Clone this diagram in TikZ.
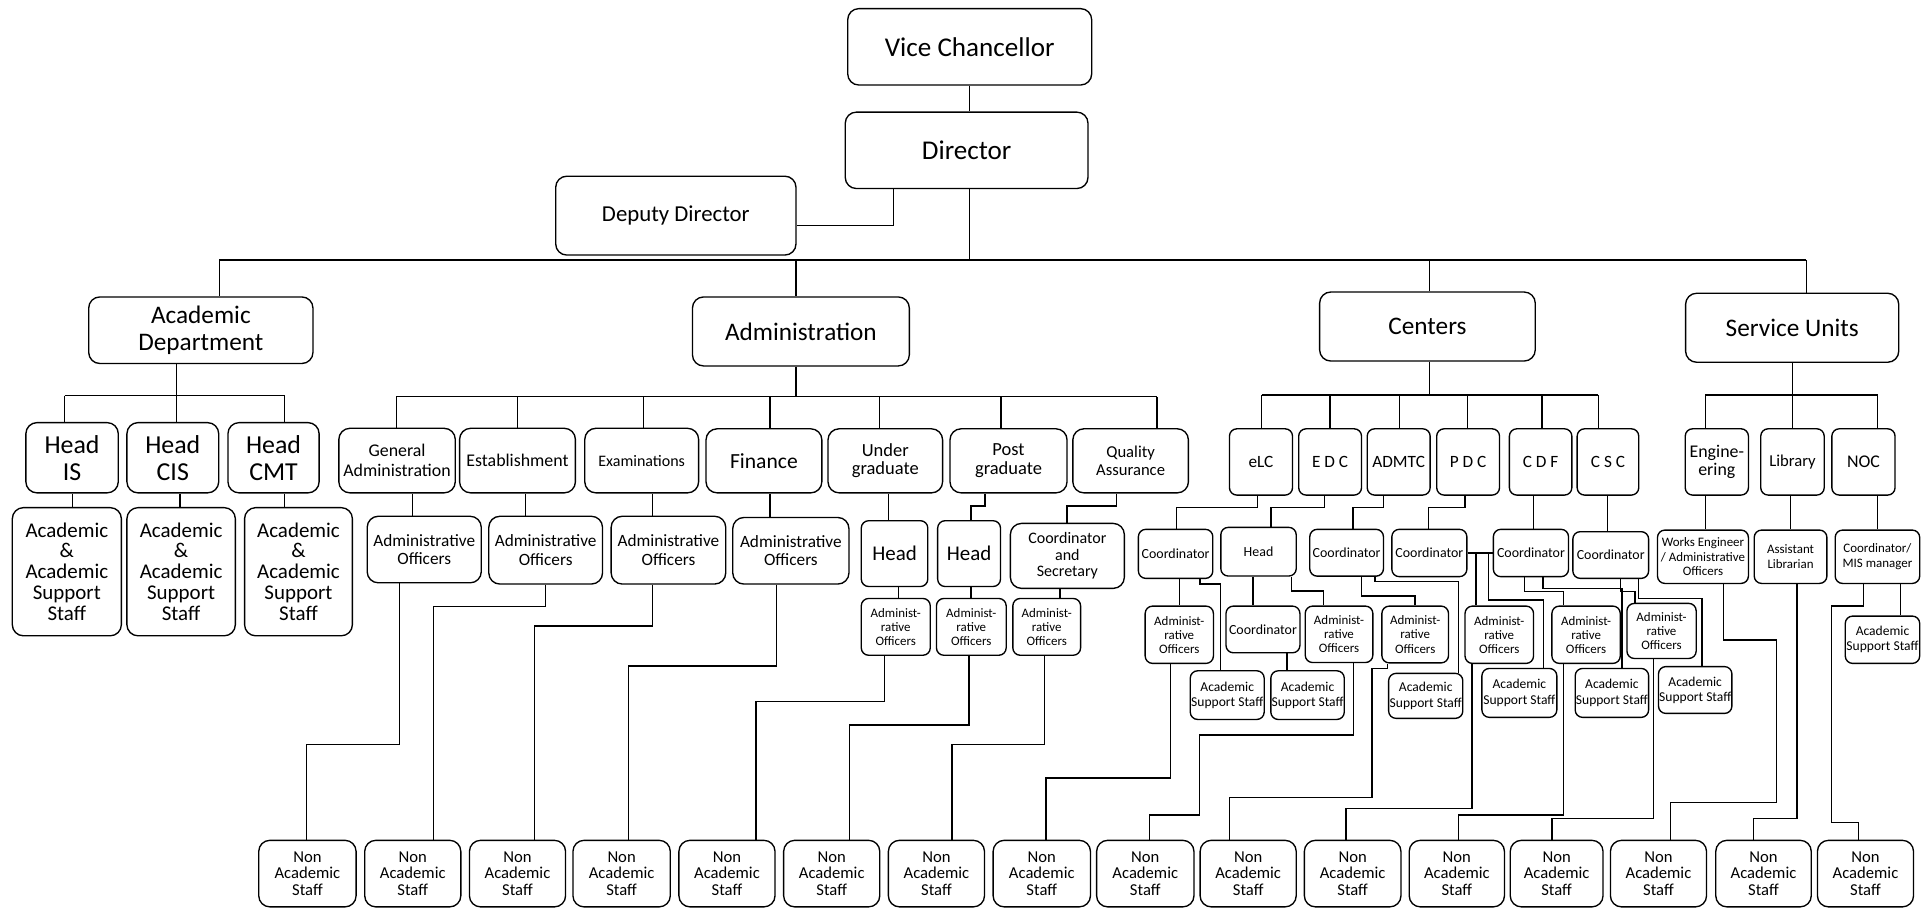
\documentclass[tikz,border=0pt]{standalone}
\usepackage{fontspec}
\setmainfont{Carlito}
\newcommand\obx[7][]{\node[bx,#1,minimum width={(#5-#3)*1pt},minimum height={(#6-#4)*1pt}] (#2) at ({(#3+#5)/2},{(#4+#6)/2}) {#7};}
\newcommand\ovv[3]{\draw[ln] (#2,0 |- #1.south) -- (#2,0 |- #3.north);}
\newcommand\oelA[5]{\draw[ln] (#2,0 |- #1.south) -- (#2,#3) -- (#4,#3) -- (#4,0 |- #5.north);}
\newcommand\oelB[7]{\draw[ln] (#2,0 |- #1.south) -- (#2,#3) -- (#4,#3) -- (#4,#5) -- (#6,#5) -- (#6,0 |- #7.north);}
\begin{document}
\begin{tikzpicture}[x=1pt,y=-1pt,
 bx/.style={draw,line width=1.1pt,rounded corners=9pt,inner sep=0pt,align=center},
 sb/.style={rounded corners=6pt},
 ln/.style={line width=1.1pt},
 fA/.style={font=\fontsize{22}{24}\selectfont},
 fDD/.style={font=\fontsize{18.5}{20}\selectfont},
 fL/.style={font=\fontsize{20.5}{22}\selectfont},
 fH/.style={font=\fontsize{21}{22}\selectfont},
 fAS/.style={font=\fontsize{17}{17}\selectfont},
 fGA/.style={font=\fontsize{14.5}{16}\selectfont},
 fExm/.style={font=\fontsize{13}{14}\selectfont},
 fFin/.style={font=\fontsize{17.5}{18}\selectfont},
 fUG/.style={font=\fontsize{15}{15}\selectfont},
 fQA/.style={font=\fontsize{13.5}{14.5}\selectfont},
 fAO/.style={font=\fontsize{14}{15}\selectfont},
 fHd/.style={font=\fontsize{17}{18}\selectfont},
 fCS/.style={font=\fontsize{13}{13.5}\selectfont},
 fSAO/.style={font=\fontsize{10.5}{11.5}\selectfont},
 fNAS/.style={font=\fontsize{13.5}{13.5}\selectfont},
 fC/.style={font=\fontsize{14}{15}\selectfont},
 fCo/.style={font=\fontsize{11.3}{12}\selectfont},
 fAss/.style={font=\fontsize{11}{12.3}\selectfont},
 fEng/.style={font=\fontsize{14.5}{14.5}\selectfont},
 fSv/.style={font=\fontsize{10.5}{12}\selectfont}]
\useasboundingbox (0,0) rectangle (1568,737);
% ---------- top
\obx[fA]{vc}{688}{7}{886}{69}{Vice Chancellor}
\obx[fA]{dir}{686}{91}{883}{153}{Director}
\obx[fDD]{dd}{451}{143}{646}{207}{Deputy Director}
\ovv{vc}{787}{dir}
\draw[ln] (725,0 |- dir.south) -- (725,183) -- (dd.east |- 725,183);
\draw[ln] (787,0 |- dir.south) -- (787,211);
\draw[ln] (178,211) -- (1466,211);
\obx[fL]{acad}{72}{241}{254}{295}{Academic\\Department}
\obx[fL]{adm}{562}{241}{738}{297}{Administration}
\obx[fL]{cen}{1071}{237}{1246}{293}{Centers}
\obx[fL]{svc}{1368}{238}{1541}{294}{Service Units}
\draw[ln] (178,211) -- (178,0 |- acad.north);
\draw[ln] (646,211) -- (646,0 |- adm.north);
\draw[ln] (1160,211) -- (1160,0 |- cen.north);
\draw[ln] (1466,211) -- (1466,0 |- svc.north);
% ---------- academic
\draw[ln] (143,0 |- acad.south) -- (143,321);
\draw[ln] (52.5,321) -- (231,321);
\obx[fH]{hIS}{21}{343}{96}{400}{Head\\IS}
\obx[fH]{hCIS}{103}{343}{177.5}{400}{Head\\CIS}
\obx[fH]{hCMT}{185}{343}{259}{400}{Head\\CMT}
\draw[ln] (52.5,321) -- (52.5,0 |- hIS.north);
\draw[ln] (143,321) -- (143,0 |- hCIS.north);
\draw[ln] (231,321) -- (231,0 |- hCMT.north);
\obx[fAS]{as1}{10}{412}{98.5}{516}{Academic\\\&\\Academic\\Support\\Staff}
\obx[fAS]{as2}{103}{412}{191}{516}{Academic\\\&\\Academic\\Support\\Staff}
\obx[fAS]{as3}{198.5}{412}{286}{516}{Academic\\\&\\Academic\\Support\\Staff}
\ovv{hIS}{58.7}{as1}
\ovv{hCIS}{146}{as2}
\ovv{hCMT}{231}{as3}
% ---------- administration
\draw[ln] (646,0 |- adm.south) -- (646,322);
\draw[ln] (321.7,322) -- (939,322);
\obx[fGA]{ga}{275}{347.6}{369.5}{400}{General\\Administration}
\obx[fGA]{est}{373}{347.6}{467}{400}{Establishment}
\obx[fExm]{exm}{474.6}{347.6}{567}{400}{Examinations}
\obx[fFin]{fin}{573}{348}{667}{400}{Finance}
\obx[fUG]{ug}{672}{348}{765}{400}{Under\\graduate}
\obx[fUG]{pg}{771}{348}{866}{400}{Post\\graduate}
\obx[fQA]{qa}{870.7}{348}{964.5}{400}{Quality\\Assurance}
\foreach \x/\n in {321.7/ga,420/est,522.5/exm,625/fin,714/ug,812.5/pg,939/qa}
  \draw[ln] (\x,322) -- (\x,0 |- \n.north);
\obx[fAO]{ao1}{298}{419}{390.6}{473}{Administrative\\Officers}
\obx[fAO]{ao2}{396.7}{419}{489}{474}{Administrative\\Officers}
\obx[fAO]{ao3}{496}{419}{589}{474}{Administrative\\Officers}
\obx[fAO]{ao4}{594.7}{420}{689}{474}{Administrative\\Officers}
\ovv{ga}{335}{ao1}
\ovv{est}{426.5}{ao2}
\ovv{exm}{529.7}{ao3}
\ovv{fin}{625}{ao4}
\obx[fHd,sb]{hug}{699}{422.6}{753}{476}{Head}
\obx[fHd,sb]{hpg}{761}{422.6}{812}{476}{Head}
\obx[fCS]{cs}{820}{424.8}{912.5}{477.5}{Coordinator\\and\\Secretary}
\ovv{ug}{721}{hug}
\oelA{pg}{799.5}{410.7}{788}{hpg}
\oelA{qa}{906}{410.7}{866}{cs}
\obx[fSAO,sb]{aoug}{699}{485.7}{755}{531.8}{Administ-\\rative\\Officers}
\obx[fSAO,sb]{aopg}{760}{485.7}{816.6}{531.8}{Administ-\\rative\\Officers}
\obx[fSAO,sb]{aocs}{822}{485.7}{877}{531.8}{Administ-\\rative\\Officers}
\ovv{hug}{729}{aoug}
\ovv{hpg}{788}{aopg}
\ovv{cs}{860.4}{aocs}
% ---------- centers
\draw[ln] (1160,0 |- cen.south) -- (1160,320.6);
\draw[ln] (1024,320.6) -- (1297.3,320.6);
\obx[fC,sb]{elc}{997.8}{348}{1049}{401.8}{eLC}
\obx[fC,sb]{edc}{1054}{348}{1105}{401.8}{E D C}
\obx[fC,sb]{admtc}{1109.6}{348}{1160.7}{401.8}{ADMTC}
\obx[fC,sb]{pdc}{1166}{348}{1217}{401.8}{P D C}
\obx[fC,sb]{cdf}{1225}{348}{1275.7}{401.8}{C D F}
\obx[fC,sb]{csc}{1280}{348}{1330}{401.8}{C S C}
\foreach \x/\n in {1024/elc,1079.5/edc,1135.6/admtc,1191/pdc,1251.4/cdf,1297.3/csc}
  \draw[ln] (\x,320.6) -- (\x,0 |- \n.north);
\obx[fCo,sb]{elcC}{923.9}{429.6}{984.3}{469.4}{Coordinator}
\obx[fCo,sb]{edcH}{990.8}{428}{1052}{467.5}{Head}
\obx[fCo,sb]{admC}{1063}{429.6}{1122.8}{467.6}{Coordinator}
\obx[fCo,sb]{pdcC}{1129.6}{429.6}{1190.5}{468}{Coordinator}
\obx[fCo,sb]{cdfC}{1212}{429.6}{1273}{468}{Coordinator}
\obx[fCo,sb]{cscC}{1276.5}{431.5}{1338}{469.4}{Coordinator}
\oelA{elc}{1020.6}{412}{955}{elcC}
\oelA{edc}{1074.7}{412}{1031.4}{edcH}
\oelA{admtc}{1122.8}{412}{1098}{admC}
\oelA{pdc}{1189}{412}{1159.4}{pdcC}
\ovv{cdf}{1244.6}{cdfC}
\ovv{csc}{1304.6}{cscC}
\draw[ln] (pdcC.east) -- (cdfC.west);
\obx[fSAO,sb]{elcAO}{929.4}{491.9}{984.8}{538.4}{Administ-\\rative\\Officers}
\obx[fAss,sb]{elcS}{966}{544.4}{1026}{583.9}{Academic\\Support Staff}
\obx[fCo,sb]{edcC}{995}{491.9}{1055}{529.8}{Coordinator}
\obx[fSAO,sb]{edcAO}{1059.3}{491.9}{1114.2}{537.7}{Administ-\\rative\\Officers}
\obx[fAss,sb]{edcS}{1031.4}{544.4}{1091}{583.9}{Academic\\Support Staff}
\obx[fSAO,sb]{admAO}{1121.5}{491.9}{1175.6}{538}{Administ-\\rative\\Officers}
\obx[fAss,sb]{admS}{1127}{546.5}{1187.2}{583}{Academic\\Support Staff}
\obx[fSAO,sb]{pdcAO}{1189}{491.9}{1244.6}{538.4}{Administ-\\rative\\Officers}
\obx[fAss,sb]{pdcS}{1202.7}{542.5}{1263.5}{582.2}{Academic\\Support Staff}
\obx[fSAO,sb]{cdfAO}{1259.5}{491.9}{1315}{538.4}{Administ-\\rative\\Officers}
\obx[fAss,sb]{cdfS}{1278.4}{542.5}{1338}{582.2}{Academic\\Support Staff}
\obx[fSAO,sb]{cscAO}{1320.4}{489.7}{1376.6}{534.4}{Administ-\\rative\\Officers}
\obx[fAss,sb]{cscS}{1346}{541}{1405.6}{579}{Academic\\Support Staff}
\ovv{elcC}{957.2}{elcAO}
\oelA{elcC}{974}{474}{990.3}{elcS}
\ovv{edcH}{1016.8}{edcC}
\oelA{edcH}{1048.4}{479.7}{1074}{edcAO}
\ovv{edcC}{1044.4}{edcS}
\oelA{admC}{1105.2}{483.8}{1148.5}{admAO}
\oelA{admC}{1116}{472}{1183.7}{admS}
\draw[ln] (1198,0 |- pdcC.east) -- (1198,0 |- pdcAO.north);
\draw[ln] (1208,0 |- pdcC.east) -- (1208,487) -- (1252.7,487) -- (1252.7,0 |- pdcS.north);
\oelA{cdfC}{1237.3}{480.2}{1269}{cdfAO}
\oelA{cdfC}{1252.2}{477.5}{1316.3}{cdfS}
\oelA{cscC}{1315}{480.2}{1327}{cscAO}
\oelA{cscC}{1330}{485.7}{1381.3}{cscS}
% ---------- service units
\draw[ln] (1454.8,0 |- svc.south) -- (1454.8,320.6);
\draw[ln] (1384,320.6) -- (1523.8,320.6);
\obx[fEng,sb]{eng}{1367.7}{348}{1419}{401.8}{Engine-\\ering}
\obx[fQA,sb]{lib}{1429}{348}{1480.5}{401.8}{Library}
\obx[fEng,sb]{noc}{1486.7}{348}{1538}{401.8}{NOC}
\foreach \x/\n in {1384/eng,1454.8/lib,1523.8/noc}
  \draw[ln] (\x,320.6) -- (\x,0 |- \n.north);
\obx[fSv,sb]{we}{1345.2}{430.2}{1419}{473.5}{Works Engineer\\/ Administrative\\Officers}
\obx[fSv,sb]{al}{1423.7}{430.2}{1482.7}{473.5}{Assistant\\Librarian}
\obx[fSv,sb]{mis}{1489.4}{430.2}{1558}{473.5}{Coordinator/\\MIS manager}
\obx[fAss,sb]{misS}{1497.6}{500}{1558}{538.4}{Academic\\Support Staff}
\ovv{eng}{1384}{we}
\ovv{lib}{1452.9}{al}
\ovv{noc}{1523.8}{mis}
\ovv{mis}{1542.2}{misS}
% ---------- non academic staff
\foreach \n/\a/\b in {1/210/289,2/296/374,3/381/459,4/465/544,5/551/629,6/636/714,7/721/799,8/806/885,9/890/969,10/974/1052,11/1058.6/1137,12/1143.7/1221,13/1225.7/1301,14/1307/1385,15/1392.5/1470,16/1475/1553}
  {\obx[fNAS]{nas\n}{\a}{682}{\b}{736}{Non\\Academic\\Staff}}
\oelA{ao1}{324}{604}{249}{nas1}
\oelA{ao2}{442.7}{492}{352}{nas2}
\oelA{ao3}{529.7}{508}{433.7}{nas3}
\oelA{ao4}{630.4}{540.6}{510}{nas4}
\oelA{aoug}{717.6}{569.5}{613.5}{nas5}
\oelA{aopg}{786.3}{588.5}{689.5}{nas6}
\oelA{aocs}{847.5}{604}{772.6}{nas7}
\oelA{elcAO}{949.7}{631.5}{849}{nas8}
\oelB{edcAO}{1098.5}{596.6}{973.5}{661.5}{932.9}{nas9}
\oelB{admAO}{1126}{542.5}{1113.4}{647.2}{997.8}{nas10}
\oelA{pdcAO}{1194.6}{656}{1092.5}{nas11}
\oelA{cdfAO}{1269}{661.5}{1183.7}{nas12}
\oelA{cscAO}{1342}{664.2}{1259.5}{nas13}
\oelB{we}{1398.8}{519.5}{1442}{651.5}{1356}{nas14}
\oelA{al}{1458.3}{664.2}{1423}{nas15}
\oelB{mis}{1512.4}{491.9}{1486.2}{667.7}{1508.4}{nas16}
\end{tikzpicture}
\end{document}
